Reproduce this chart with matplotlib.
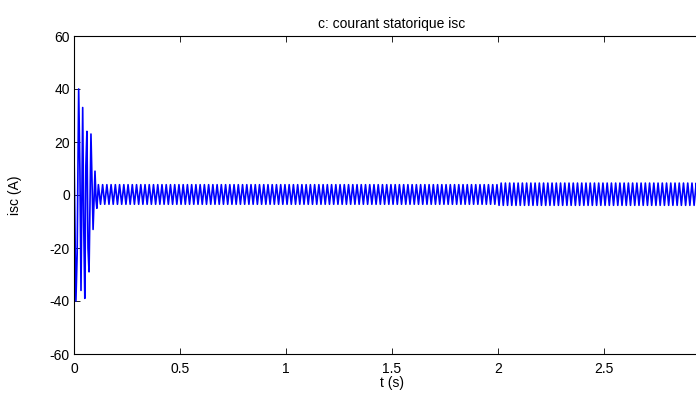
import numpy as np
from matplotlib import pyplot as plt

plt.rcParams['font.family'] = ['Liberation Sans', 'DejaVu Sans']
plt.rcParams['axes.unicode_minus'] = False

# startup transient: extremes (t in s, isc in A)
start_t = [0.0, 0.009, 0.015, 0.022, 0.028, 0.033, 0.041, 0.046, 0.051,
           0.056, 0.061, 0.066, 0.071, 0.080, 0.090, 0.099, 0.104, 0.108]
start_i = [17, -40, -22, 40, 9, -36, 33, -12, -39,
           11, 24, -20, -29, 23, -13, 9, -2, -5]

# steady state after startup: 50 Hz, peak values per segment
f_supply = 50.0
seg_edges = [0.11, 2.0, 3.0]
seg_high = [3.9, 4.5]
seg_low = [-3.5, -3.9]


def build_signal():
    t = list(start_t)
    y = list(start_i)
    half = 0.5 / f_supply
    tk = seg_edges[0] + half / 2
    k = 0
    while tk <= seg_edges[-1]:
        s = 0 if tk < seg_edges[1] else 1
        t.append(tk)
        y.append(seg_high[s] if k % 2 == 0 else seg_low[s])
        tk += half
        k += 1
    return np.array(t), np.array(y)


t, isc = build_signal()

fig = plt.figure(figsize=(6.96, 3.98), dpi=100)
ax = fig.add_axes([74 / 696, 44 / 398, 636 / 696, 318 / 398])
ax.plot(t, isc, color='#0000ff', lw=1.2)

ax.set_xlim(0, 3)
ax.set_ylim(-60, 60)
# the 3 s tick lies past the right edge of the picture
ax.set_xticks(np.arange(0, 2.51, 0.5))
ax.set_xticklabels(['0', '0.5', '1', '1.5', '2', '2.5'])
ax.set_yticks(np.arange(-60, 61, 20))
ax.tick_params(direction='in', top=True, right=True, length=4,
               width=0.6, labelsize=10)
ax.tick_params(axis='x', pad=5.5)
ax.tick_params(axis='y', pad=3)
for sp in ax.spines.values():
    sp.set_linewidth(0.8)

ax.set_title("c: courant statorique isc", fontsize=10, pad=6)
ax.set_xlabel("t (s)", fontsize=10, labelpad=0)
ax.set_ylabel("isc (A)", fontsize=10, labelpad=20)

fig.savefig("out.png", dpi=100)
